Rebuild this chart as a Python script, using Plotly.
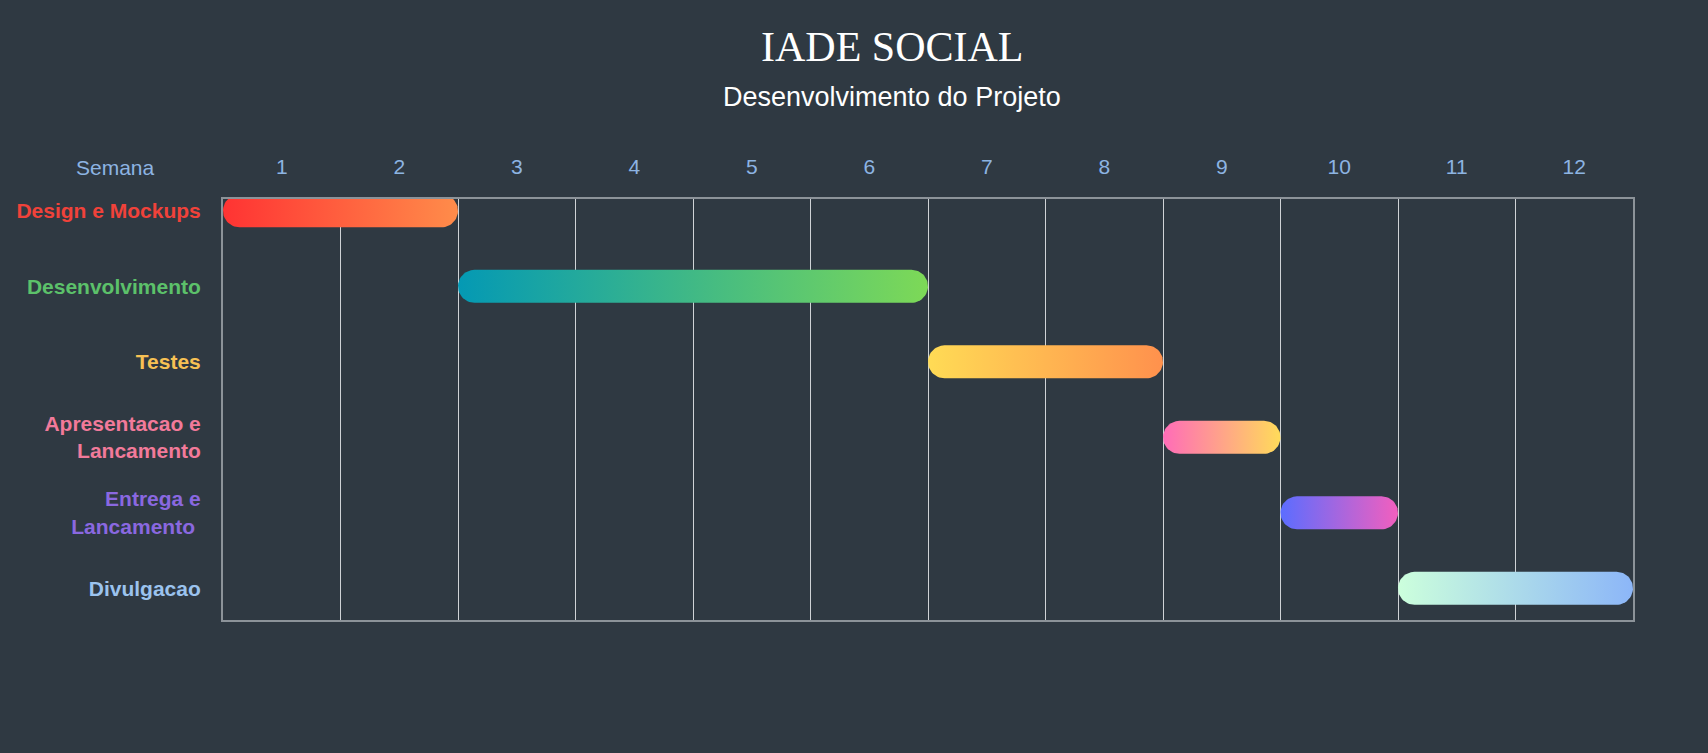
import numpy as np
import plotly.graph_objects as go

# ---------------- data ----------------
tasks = [
    "Design e Mockups",
    "Desenvolvimento",
    "Testes",
    "Apresentacao e<br>Lancamento",
    "Entrega e<br>Lancamento\u00a0",
    "Divulgacao",
]
start_week = [1, 3, 7, 9, 10, 11]
end_week = [2, 6, 8, 9, 10, 12]
label_colors = ["#f0423a", "#5cc16a", "#f7c154", "#f27a9a", "#8a68e0", "#9bc3ee"]
grad_start = ["#ff3333", "#0499b4", "#ffdb55", "#ff6cb8", "#5b6dff", "#ccffdc"]
grad_end = ["#ff8c4a", "#7dd957", "#ff914d", "#ffdb5a", "#f25fbe", "#8cb6f8"]
weeks = list(range(1, 13))
week_labels = [str(w) for w in weeks]

# ---------------- layout constants ----------------
W, H = 1708, 753
ML, MR, MT, MB = 223, 75, 199, 133
x_range = [0.5, 12.5]
y_range = [5.42, -0.156]
radius_px = 16.5
BG = "#2f3942"

plot_w = W - ML - MR
plot_h = H - MT - MB
px_per_x = plot_w / (x_range[1] - x_range[0])
px_per_y = plot_h / abs(y_range[0] - y_range[1])
rx = radius_px / px_per_x
ry = radius_px / px_per_y


def capsule(x0, x1, yc, n=30):
    t1 = np.linspace(-np.pi / 2, np.pi / 2, n)
    rxs = (x1 - rx) + rx * np.cos(t1)
    rys = yc + ry * np.sin(t1)
    t2 = np.linspace(np.pi / 2, 3 * np.pi / 2, n)
    lxs = (x0 + rx) + rx * np.cos(t2)
    lys = yc + ry * np.sin(t2)
    xs = np.concatenate([rxs, lxs, rxs[:1]])
    ys = np.concatenate([rys, lys, rys[:1]])
    return xs, ys


fig = go.Figure()
for i, task in enumerate(tasks):
    x0 = start_week[i] - 0.5
    x1 = end_week[i] + 0.5
    xs, ys = capsule(x0, x1, i)
    fig.add_trace(
        go.Scatter(
            x=xs,
            y=ys,
            mode="lines",
            fill="toself",
            line=dict(width=0, color="rgba(0,0,0,0)"),
            fillgradient=dict(
                type="horizontal",
                colorscale=[[0, grad_start[i]], [1, grad_end[i]]],
            ),
            hoverinfo="skip",
            showlegend=False,
        )
    )

ticktext_y = [
    f'<b><span style="color:{label_colors[i]}">{t}</span></b>' for i, t in enumerate(tasks)
]

fig.update_layout(
    width=W,
    height=H,
    margin=dict(l=ML, r=MR, t=MT, b=MB, pad=0),
    paper_bgcolor=BG,
    plot_bgcolor=BG,
    font=dict(family="Liberation Sans, Arial, sans-serif", color="#8db4e2"),
    xaxis=dict(
        range=x_range,
        side="top",
        tickmode="array",
        tickvals=weeks,
        ticktext=week_labels,
        tickfont=dict(size=21, color="#8db4e2"),
        ticks="",
        ticklabelstandoff=15,
        showgrid=False,
        zeroline=False,
        showline=True,
        linecolor="#8c9399",
        linewidth=2,
        mirror=True,
        minor=dict(
            tickmode="linear",
            tick0=0.5,
            dtick=1,
            showgrid=True,
            gridcolor="#cfd3d6",
            gridwidth=1,
            ticks="",
        ),
        fixedrange=True,
    ),
    yaxis=dict(
        range=y_range,
        tickmode="array",
        tickvals=list(range(len(tasks))),
        ticktext=ticktext_y,
        tickfont=dict(size=21),
        ticks="",
        ticklabelstandoff=16,
        showgrid=False,
        zeroline=False,
        showline=True,
        linecolor="#8c9399",
        linewidth=2,
        mirror=True,
        fixedrange=True,
    ),
    annotations=[
        dict(
            text="IADE SOCIAL",
            xref="paper",
            yref="paper",
            x=(892 - ML) / plot_w,
            y=1 + (MT - 47) / plot_h,
            xanchor="center",
            yanchor="middle",
            showarrow=False,
            font=dict(family="Liberation Serif, Times New Roman, serif", size=42, color="#ffffff"),
        ),
        dict(
            text="Desenvolvimento do Projeto",
            xref="paper",
            yref="paper",
            x=(892 - ML) / plot_w,
            y=1 + (MT - 97) / plot_h,
            xanchor="center",
            yanchor="middle",
            showarrow=False,
            font=dict(family="Liberation Sans, Arial, sans-serif", size=27, color="#ffffff"),
        ),
        dict(
            text="Semana",
            xref="paper",
            yref="paper",
            x=(115 - ML) / plot_w,
            y=1 + (MT - 167) / plot_h,
            xanchor="center",
            yanchor="middle",
            showarrow=False,
            font=dict(family="Liberation Sans, Arial, sans-serif", size=21, color="#8db4e2"),
        ),
    ],
)

fig.write_html("out.html", config={"displayModeBar": False})
